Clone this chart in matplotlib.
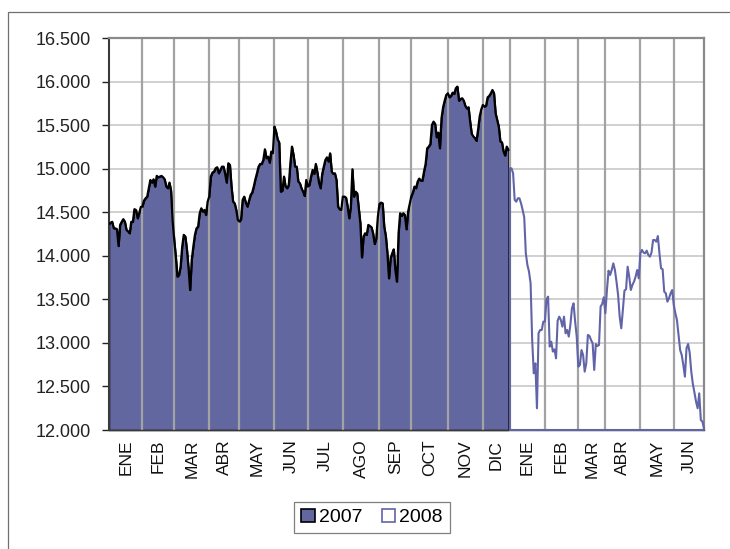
import numpy as np
import matplotlib
matplotlib.use("Agg")
import matplotlib.pyplot as plt
from matplotlib.patches import Patch, Rectangle

# daily closes, one list per month (trading days)
ene07 = [14365, 14380, 14390, 14315, 14315, 14305, 14112, 14355, 14390, 14420, 14390,
         14296, 14280, 14258, 14390, 14390, 14535, 14525, 14430, 14490, 14560]
feb07 = [14564, 14633, 14660, 14679, 14775, 14870, 14840, 14878, 14794, 14917, 14901,
         14909, 14917, 14901, 14878, 14794, 14775, 14840, 14748, 14400]
mar07 = [14181, 13990, 13760, 13780, 13875, 14105, 14240, 14220, 14067, 13856, 13607,
         13952, 14105, 14240, 14315, 14334, 14488, 14545, 14507, 14526, 14468, 14621]
abr07 = [14679, 14909, 14955, 14966, 15004, 15016, 14947, 14985, 15023, 15023, 14940,
         14840, 15062, 15043, 14794, 14621, 14602, 14526, 14411]
may07 = [14392, 14419, 14641, 14679, 14610, 14564, 14633, 14698, 14725, 14794, 14878,
         14947, 15023, 15054, 15054, 15100, 15222, 15119, 15138, 15069, 15196, 15176]
jun07 = [15483, 15425, 15337, 15299, 14736, 14748, 14909, 14794, 14775, 14813, 15062,
         15253, 15157, 15023, 15023, 14851, 14832, 14775, 14736, 14687, 14870]
jul07 = [14794, 14813, 14909, 14985, 14940, 15054, 14955, 14840, 14775, 14940, 15023,
         15100, 15130, 15081, 15176, 14966, 14940, 14947, 14870, 14564, 14533, 14526]
ago07 = [14679, 14679, 14667, 14564, 14430, 14564, 14993, 14679, 14736, 14717, 14545,
         14373, 13982, 14220, 14258, 14240, 14354, 14342, 14327, 14258, 14135, 14200, 14449]
sep07 = [14595, 14610, 14602, 14334, 14228, 14028, 13741, 13971, 14028, 14074, 13837,
         13703, 14258, 14488, 14457, 14488, 14468, 14304, 14507, 14595]
oct07 = [14679, 14725, 14794, 14775, 14851, 14886, 14863, 14863, 14966, 15054, 15234,
         15253, 15283, 15502, 15540, 15513, 15360, 15414, 15234, 15578, 15705, 15781, 15846]
nov07 = [15865, 15819, 15835, 15873, 15858, 15923, 15942, 15780, 15800, 15808, 15780,
         15720, 15690, 15705, 15540, 15400, 15370, 15350, 15320, 15450, 15600, 15680]
dic07 = [15731, 15712, 15723, 15819, 15835, 15865, 15903, 15865, 15636, 15559, 15483,
         15311, 15303, 15196, 15150, 15253, 15215]

ene08 = [15004, 15004, 14947, 14641, 14621, 14660, 14660, 14602, 14526, 14442, 14028,
         13894, 13818, 13684, 13033, 12651, 12765, 12249, 13110, 13148, 13148, 13244]
feb08 = [13244, 13500, 13531, 12957, 13014, 12900, 12926, 12823, 13255, 13301, 13263,
         13186, 13301, 13110, 13148, 13072, 13205, 13397, 13454, 13244, 13072]
mar08 = [12727, 12746, 12918, 12861, 12670, 12765, 13091, 13080, 13033, 12995, 12689,
         12987, 12964, 12976, 13416, 13447, 13523]
abr08 = [13340, 13607, 13829, 13780, 13837, 13913, 13837, 13703, 13550, 13301, 13167,
         13378, 13600, 13615, 13875, 13760, 13607, 13665, 13703, 13760, 13837, 13741]
may08 = [14028, 14067, 14036, 14028, 14059, 14009, 13990, 14036, 14181, 14181, 14162,
         14227, 14028, 13856, 13845, 13588, 13569, 13473, 13512, 13569, 13607]
jun08 = [13435, 13340, 13263, 13091, 12918, 12861, 12746, 12612, 12938, 12987, 12888,
         12670, 12528, 12429, 12325, 12249, 12421, 12115, 12096, 12019]

months07 = [ene07, feb07, mar07, abr07, may07, jun07, jul07, ago07, sep07, oct07, nov07, dic07]
months08 = [ene08, feb08, mar08, abr08, may08, jun08]
labels = ["ENE", "FEB", "MAR", "ABR", "MAY", "JUN", "JUL", "AGO", "SEP", "OCT", "NOV", "DIC",
          "ENE", "FEB", "MAR", "ABR", "MAY", "JUN"]
yticks = np.arange(12000, 16501, 500)

FILL07 = "#63679f"
LINE08 = "#6165a8"
FONT = ["Liberation Sans", "DejaVu Sans"]


def fmt(v):
    return "{:,}".format(int(v)).replace(",", ".")


def main():
    y07 = np.concatenate(months07)
    y08 = np.concatenate(months08)
    n07 = len(y07)
    n = n07 + len(y08)
    x07 = np.arange(n07)
    x08 = np.arange(n07, n)

    lengths = [len(m) for m in months07 + months08]
    starts = np.concatenate([[0], np.cumsum(lengths)[:-1]])
    ends = list(starts[1:]) + [n - 1]
    mids = [(s + e) / 2 for s, e in zip(starts, ends)]

    fig = plt.figure(figsize=(7.3, 5.49), dpi=100)
    ax = fig.add_axes([109 / 730, 1 - 430 / 549, 595 / 730, (430 - 38) / 549])

    # outer chart border (left and top only visible)
    fig.patches.append(Rectangle((8 / 730, -0.1), 1.2, 1.1 - 12 / 549, transform=fig.transFigure,
                                 fill=False, edgecolor="#707070", linewidth=0.9))

    for v in yticks:
        ax.axhline(v, color="#c4c4c4", linewidth=1.1, zorder=0)

    ax.fill_between(x07, 12000, y07, facecolor=FILL07, edgecolor="black",
                    linewidth=1.0, zorder=1, clip_on=False)
    for s in list(starts[1:]):
        ax.axvline(s, color="#a3a3a6", linewidth=1.6, zorder=2)
    ax.plot(x07, y07, color="black", linewidth=1.6, zorder=3)

    ax.fill_between(x08, 12000, y08, facecolor="none", edgecolor=LINE08,
                    linewidth=1.5, zorder=3, clip_on=False)

    ax.set_xlim(0, n - 1)
    ax.set_ylim(12000, 16500)
    ax.set_yticks(yticks)
    ax.set_yticklabels([fmt(v) for v in yticks], family=FONT, fontsize=13)
    ax.set_xticks(mids)
    ax.set_xticklabels(labels, rotation=90, family=FONT, fontsize=12.5)
    ax.tick_params(axis="x", length=0, pad=7, colors="#111111")
    ax.tick_params(axis="y", length=5, width=1.0, direction="out", pad=8,
                   colors="#222222")

    for side in ["top", "right"]:
        ax.spines[side].set_color("#8a8a8a")
        ax.spines[side].set_linewidth(1.6)
    ax.spines["left"].set_color("#3a3a3a")
    ax.spines["left"].set_linewidth(1.5)
    ax.spines["bottom"].set_color("#3a3a3a")
    ax.spines["bottom"].set_linewidth(1.0)

    handles = [Patch(facecolor=FILL07, edgecolor="black", linewidth=1.2, label="2007"),
               Patch(facecolor="white", edgecolor=LINE08, linewidth=1.2, label="2008")]
    leg = fig.legend(handles=handles, loc="center", bbox_to_anchor=(372 / 730, 1 - 517.5 / 549),
                     ncol=2, frameon=True, fancybox=False, shadow=False,
                     prop={"family": FONT, "size": 14}, handlelength=0.7, handleheight=0.7,
                     handletextpad=0.2, columnspacing=1.0, borderpad=0.35, borderaxespad=0)
    leg.get_frame().set_edgecolor("#606060")
    leg.get_frame().set_linewidth(0.9)

    fig.savefig("out.png", dpi=100)


if __name__ == '__main__': main()
